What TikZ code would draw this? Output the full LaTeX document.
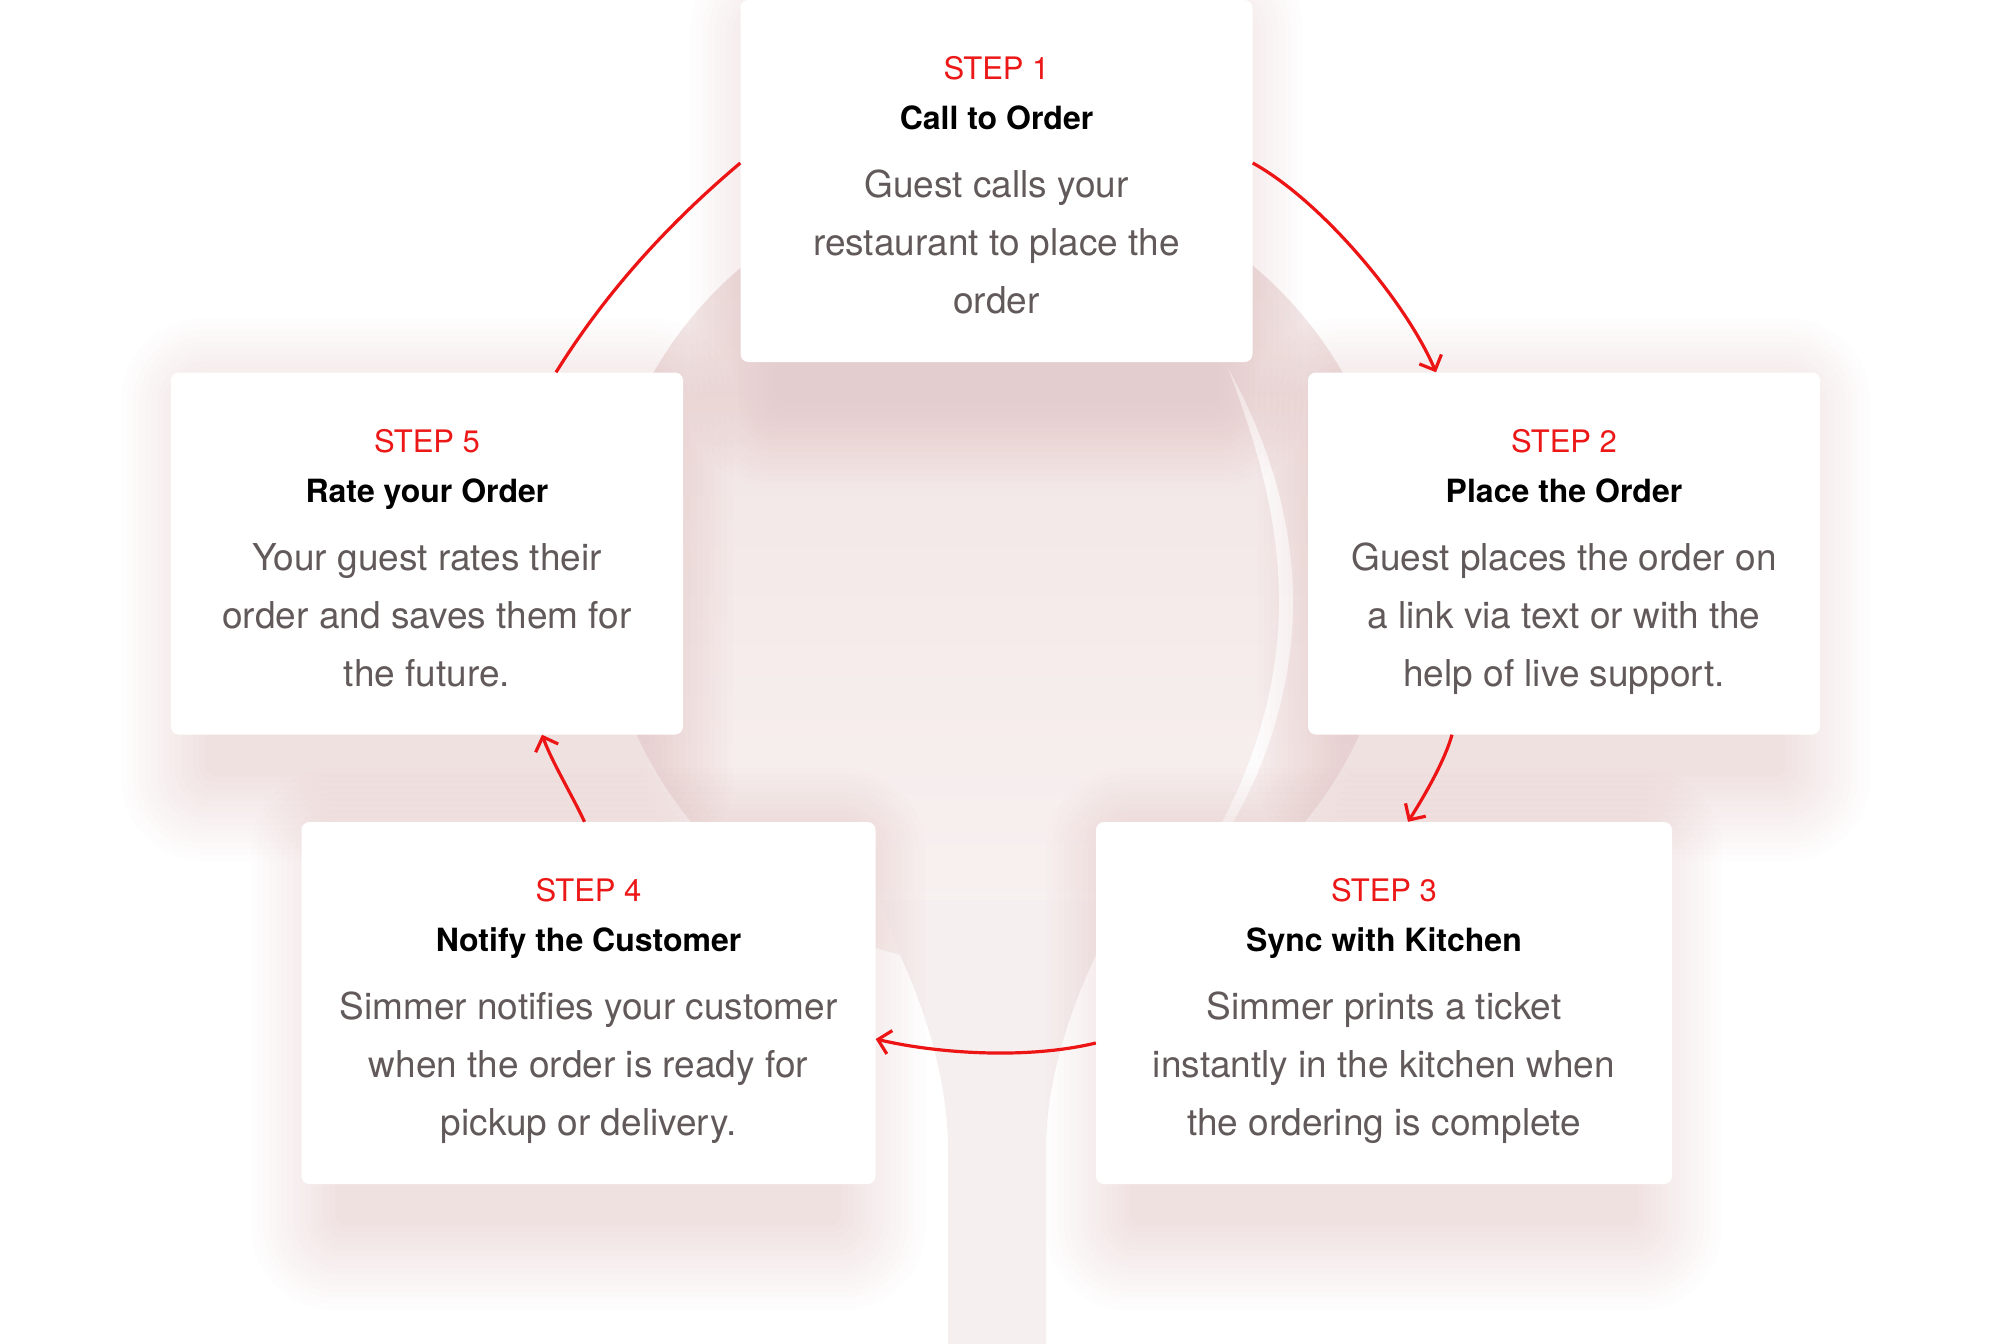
\documentclass[tikz,border=0pt]{standalone}
\usepackage{fontspec}
\setmainfont{TeX Gyre Heros}
\usetikzlibrary{arrows.meta,calc}
\definecolor{stepred}{RGB}{236,24,24}
\definecolor{arrred}{RGB}{236,20,20}
\definecolor{bodygray}{RGB}{98,90,90}
\definecolor{shadowc}{RGB}{190,125,128}
\definecolor{spoontop}{RGB}{240,226,226}
\definecolor{spoonbot}{RGB}{248,242,241}
\definecolor{handlec}{RGB}{246,239,239}
\pgfdeclarelayer{spoonlayer}
\pgfdeclarelayer{shadowlayer}
\pgfsetlayers{spoonlayer,shadowlayer,main}
\tikzset{
  card/.style={draw=none,fill=white,rounded corners=8pt,inner sep=0pt,minimum height=362pt},
  stepl/.style={anchor=base,inner sep=0pt,text=stepred,font=\fontsize{31}{36}\selectfont},
  ttl/.style={anchor=base,inner sep=0pt,text=black,font=\fontsize{32}{38}\selectfont\bfseries},
  bodyl/.style={anchor=base,inner sep=0pt,text=bodygray,font=\fontsize{37}{44}\selectfont},
  flowline/.style={draw=arrred,line width=3.2pt},
  flow/.style={flowline,-{Straight Barb[length=12pt,width=24pt]}}
}
\newcommand\mycardtext[6]{%
  \node[stepl] (#1s) at ($(#1.north)+(0,80)$) {#2};
  \node[ttl] (#1t) at ($(#1.north)+(0,130)$) {#3};
  \node[bodyl] (#1a) at ($(#1.north)+(0,198)$) {#4};
  \node[bodyl] (#1b) at ($(#1.north)+(0,256)$) {#5};
  \node[bodyl] (#1c) at ($(#1.north)+(0,314)$) {#6};
}
\newcommand\mycardshadow[1]{%
  \foreach \k in {1,...,15}{%
    \pgfmathsetmacro\dd{\k*6}%
    \pgfmathsetmacro\hh{\k*6-40}%
    \pgfmathsetmacro\rr{8+\k*5}%
    \fill[shadowc,opacity=0.012,rounded corners=\rr pt]
      ($(#1.south west)+(-\hh,\dd+36)$) rectangle ($(#1.north east)+(\hh,-\dd+36)$);
  }%
}
\begin{document}
\begin{tikzpicture}[x=1pt,y=-1pt]
\useasboundingbox (0,0) rectangle (1992,1344);
% cards
\node[card,minimum width=512pt] (b1) at (996.5,181) {};
\node[card,minimum width=512pt] (b2) at (1564,553.5) {};
\node[card,minimum width=512pt] (b5) at (427,553.5) {};
\node[card,minimum width=574pt] (b4) at (588.5,1003) {};
\node[card,minimum width=576pt] (b3) at (1384,1003) {};
\begin{pgfonlayer}{spoonlayer}
\fill[white] (0,0) rectangle (1992,1344);
\shade[top color=spoontop,bottom color=spoonbot] (998,570) circle[radius=397];
\fill[handlec] (880,900) -- (901,957) .. controls (925,1010) and (948,1080) .. (948,1150)
  -- (948,1350) -- (1046,1350) -- (1046,1150) .. controls (1046,1080) and (1070,1010) .. (1095,957)
  -- (1116,900) -- cycle;
\fill[white,opacity=0.85] (1228,368) .. controls (1262,430) and (1293,510) .. (1293,603)
  .. controls (1293,720) and (1240,840) .. (1163,912)
  .. controls (1228,832) and (1279,720) .. (1279,603)
  .. controls (1279,515) and (1255,440) .. (1228,368) -- cycle;
\end{pgfonlayer}
\begin{pgfonlayer}{shadowlayer}
\mycardshadow{b1}
\mycardshadow{b2}
\mycardshadow{b3}
\mycardshadow{b4}
\mycardshadow{b5}
\end{pgfonlayer}
\mycardtext{b1}{STEP 1}{Call to Order}{Guest calls your}{restaurant to place the}{order}
\mycardtext{b2}{STEP 2}{Place the Order}{Guest places the order on}{a link via text or with the}{help of live support.}
\mycardtext{b3}{STEP 3}{Sync with Kitchen}{Simmer prints a ticket}{instantly in the kitchen when}{the ordering is complete}
\mycardtext{b4}{STEP 4}{Notify the Customer}{Simmer notifies your customer}{when the order is ready for}{pickup or delivery.}
\mycardtext{b5}{STEP 5}{Rate your Order}{Your guest rates their}{order and saves them for}{the future.}
% connectors
\draw[flow] ([yshift=18pt]b1.east) .. controls (1320,200) and (1405,300) .. ([xshift=-128pt]b2.north);
\draw[flow] ([xshift=-112pt]b2.south) .. controls (1445,760) and (1425,795) .. ([xshift=24pt]b3.north);
\draw[flow] ([yshift=-40pt]b3.west) .. controls (1025,1060) and (935,1053) .. ([yshift=-36pt]b4.east);
\draw[flow] ([xshift=-4pt]b4.north) .. controls (572,795) and (552,762) .. ([xshift=115pt]b5.south);
\draw[flowline] ([xshift=129pt]b5.north) .. controls (606,292) and (668,224) .. ([yshift=18pt]b1.west);
\end{tikzpicture}
\end{document}
